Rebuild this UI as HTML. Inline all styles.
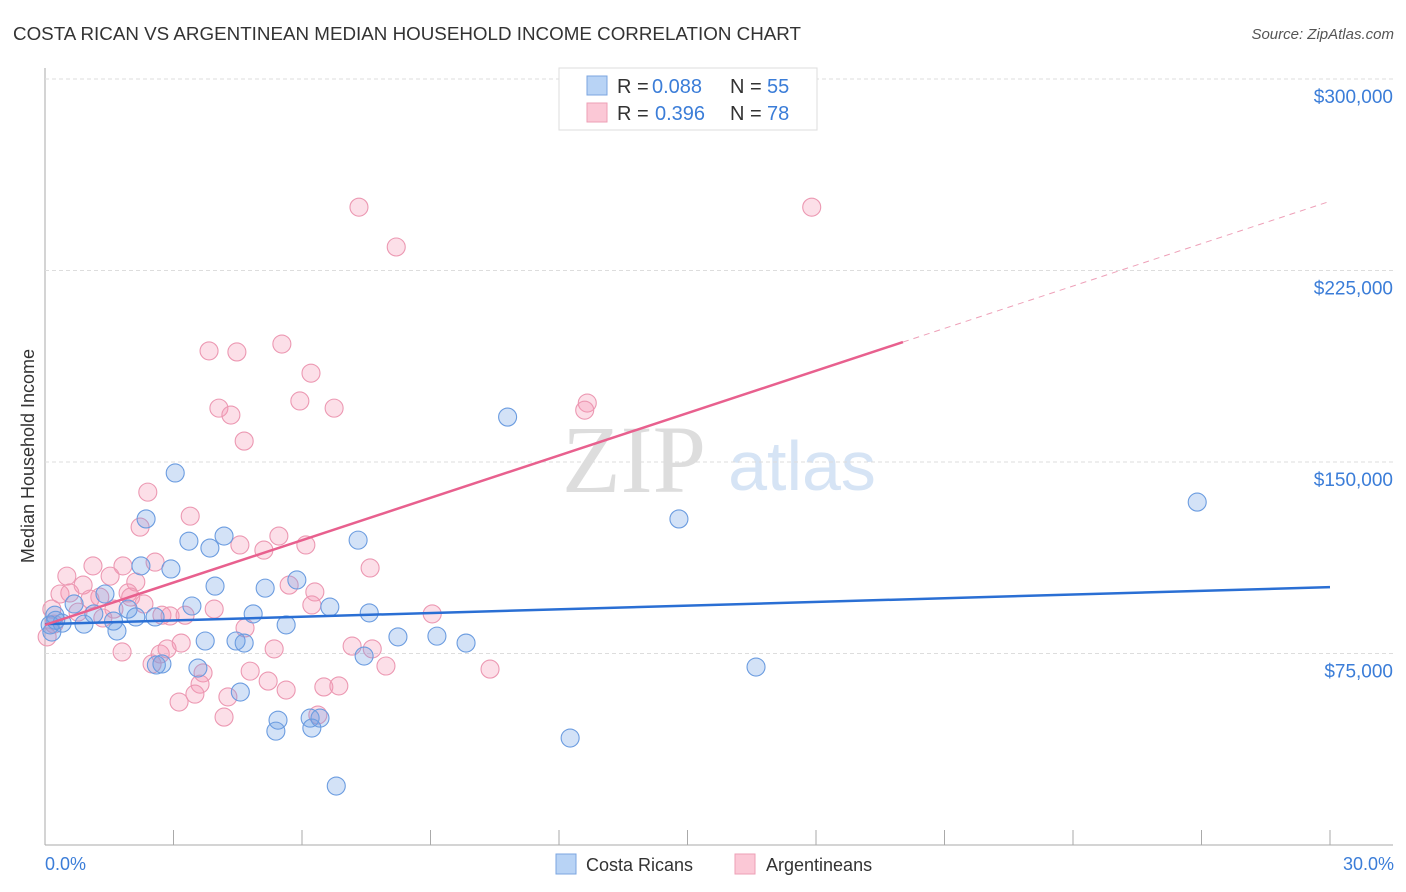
<!DOCTYPE html>
<html><head><meta charset="utf-8"><style>
body{margin:0;background:#fff;font-family:"Liberation Sans",sans-serif;}
#wrap{position:relative;width:1406px;height:892px;overflow:hidden;}
</style></head><body>
<div id="wrap">
<svg id="svg" width="1406" height="892" xmlns="http://www.w3.org/2000/svg">
<text x="13" y="40" font-size="18" fill="#333" textLength="788" lengthAdjust="spacingAndGlyphs">COSTA RICAN VS ARGENTINEAN MEDIAN HOUSEHOLD INCOME CORRELATION CHART</text>
<text x="1394" y="39" font-size="15" fill="#555" font-style="italic" text-anchor="end">Source: ZipAtlas.com</text>
<text x="634" y="492" font-size="96" fill="#ddd" text-anchor="middle" font-family="Liberation Serif,serif">ZIP</text>
<text x="802" y="490" font-size="70" fill="#d6e4f5" text-anchor="middle">atlas</text>
<g id="grid"></g><g id="pts"></g><g id="lines"></g>
<text transform="translate(34,456) rotate(-90)" font-size="18" fill="#333" text-anchor="middle">Median Household Income</text>
<text x="45" y="870" font-size="18" fill="#3b7dd8">0.0%</text>
<text x="1394" y="870" font-size="18" fill="#3b7dd8" text-anchor="end">30.0%</text>
<g>
<rect x="559" y="68" width="258" height="62" fill="#fff" stroke="#ddd"/>
<rect x="587" y="76" width="20" height="19" fill="#b8d3f5" stroke="#7ba6e0"/>
<rect x="587" y="103" width="20" height="19" fill="#fbc8d6" stroke="#ee9fb6"/>
<text x="617" y="93" font-size="20" fill="#333">R =</text>
<text x="652" y="93" font-size="20" fill="#3b7dd8">0.088</text>
<text x="730" y="93" font-size="20" fill="#333">N =</text>
<text x="767" y="93" font-size="20" fill="#3b7dd8">55</text>
<text x="617" y="120" font-size="20" fill="#333">R =</text>
<text x="655" y="120" font-size="20" fill="#3b7dd8">0.396</text>
<text x="730" y="120" font-size="20" fill="#333">N =</text>
<text x="767" y="120" font-size="20" fill="#3b7dd8">78</text>
</g>
<g>
<rect x="556" y="854" width="20" height="20" fill="#b8d3f5" stroke="#7ba6e0"/>
<text x="586" y="871" font-size="18" fill="#333">Costa Ricans</text>
<rect x="735" y="854" width="20" height="20" fill="#fbc8d6" stroke="#ee9fb6"/>
<text x="766" y="871" font-size="18" fill="#333">Argentineans</text>
</g>
</svg></div>
<script>
const yTicks=[75,150,225,300];
const yTickLabels=["$75,000","$150,000","$225,000","$300,000"];
const xTicks=[0,3,6,9,12,15,18,21,24,27,30];
const blueX=[3.04,2.36,14.8,26.9,10.8,3.36,4.18,3.85,7.31,2.24,2.94,3.97,5.14,5.88,3.43,4.86,6.65,7.57,1.4,1.94,0.68,1.14,0.91,1.68,2.57,2.12,0.4,0.23,0.12,5.63,3.74,4.46,4.65,8.24,9.15,9.83,7.45,2.6,2.73,3.57,16.6,4.56,5.44,5.39,6.19,6.23,6.42,12.26,6.8,0.16,0.25,1.6];
const blueY=[145.7,127.7,127.7,134.3,167.6,119,121,116.3,119.4,109.3,108.1,101.4,100.6,103.8,93.6,90.5,93.2,90.9,98.3,92.4,94.4,90.5,86.5,83.8,89.3,89.3,86.9,90,86.2,86.2,79.9,79.9,79.1,81.5,81.8,79.1,74,70.5,70.9,69.3,69.7,59.9,48.9,44.6,49.7,45.8,49.7,41.9,23.1,83.4,88,87.7];
const pinkX=[7.33,17.9,8.2,5.53,3.83,4.48,6.21,5.95,6.75,4.06,4.34,12.66,12.6,4.65,2.4,3.39,2.22,5.46,4.55,5.11,6.09,2.57,7.59,1.12,1.82,0.51,0.89,1.52,2.12,5.7,6.3,0.58,0.35,1.28,1.94,2.0,1.05,2.31,1.61,0.77,0.16,0.21,0.05,1.35,2.73,2.92,3.27,3.95,6.23,9.04,4.67,3.18,1.8,2.69,2.85,2.5,5.35,7.17,7.64,7.96,4.79,3.69,10.39,3.62,5.21,5.63,6.51,6.86,4.27,3.5,3.13,4.18,6.37];
const pinkY=[249.8,249.8,234.2,196.2,193.5,193.1,184.8,173.9,171.1,171.1,168.4,173.1,170.3,158.2,138.2,128.8,124.5,121,117.5,115.5,117.5,110.8,108.5,109.3,109.3,105.3,101.8,105.3,103,101.8,99.1,98.7,98.3,97.1,98.7,97.1,96.3,94.4,92.4,91.2,92.4,86.5,81.5,88.9,90,89.7,90,92.4,94,90.5,85,79.1,75.6,74.8,76.8,70.9,76.8,77.9,76.8,70.1,68.1,67.4,68.9,63,64.2,60.7,61.9,62.3,58,59.1,56,50.1,50.9];
const blueTrend=[86.5,101];
const pinkTrend=[86.2,5.53,20.03];
const NS="http://www.w3.org/2000/svg";
const X=v=>45+v/30*1285;
const Y=v=>845-v/75*191.5;
function mk(tag,attrs,parent){const e=document.createElementNS(NS,tag);for(const k in attrs)e.setAttribute(k,attrs[k]);parent.appendChild(e);return e;}
const grid=document.getElementById('grid'),pts=document.getElementById('pts'),lines=document.getElementById('lines');
let ax=mk('line',{x1:45,y1:68,x2:45,y2:845,stroke:'#aaa'},grid);


let bx=mk('line',{x1:45,y1:845,x2:1393,y2:845,stroke:'#aaa'},grid);


yTicks.forEach((t,i)=>{
 const g=mk('line',{x1:45,y1:Y(t),x2:1393,y2:Y(t),stroke:'#ddd','stroke-dasharray':'4,3'},grid);
 
 
 const tx=mk('text',{x:1393,y:Y(t)+24,'font-size':19,fill:'#3b7dd8','text-anchor':'end'},grid);
 tx.textContent=yTickLabels[i];
 
 
});
xTicks.forEach(t=>{
 const l=mk('line',{x1:X(t),y1:830,x2:X(t),y2:845,stroke:'#aaa'},grid);
 
 
});
function dots(xs,ys,fill,stroke,name){xs.forEach((x,i)=>{
 const c=mk('circle',{cx:X(x),cy:Y(ys[i]),r:9,fill:fill,stroke:stroke,'stroke-width':1.1},pts);
 
 
});}
dots(pinkX,pinkY,'rgba(244,150,178,0.3)','#ec98b2','argentinean-point');
dots(blueX,blueY,'rgba(110,160,230,0.3)','#6b9ce0','costa-rican-point');
let bl=mk('line',{x1:X(0),y1:Y(blueTrend[0]),x2:X(30),y2:Y(blueTrend[1]),stroke:'#2a6fd4','stroke-width':2.5},lines);


const pe=pinkTrend[0]+pinkTrend[1]*pinkTrend[2];
let pl=mk('line',{x1:X(0),y1:Y(pinkTrend[0]),x2:X(pinkTrend[2]),y2:Y(pe),stroke:'#e8608e','stroke-width':2.5},lines);


let pd=mk('line',{x1:X(pinkTrend[2]),y1:Y(pe),x2:X(30),y2:Y(pinkTrend[0]+pinkTrend[1]*30),stroke:'#eea0b8','stroke-width':1,'stroke-dasharray':'6,5'},lines);


</script>
</body></html>
